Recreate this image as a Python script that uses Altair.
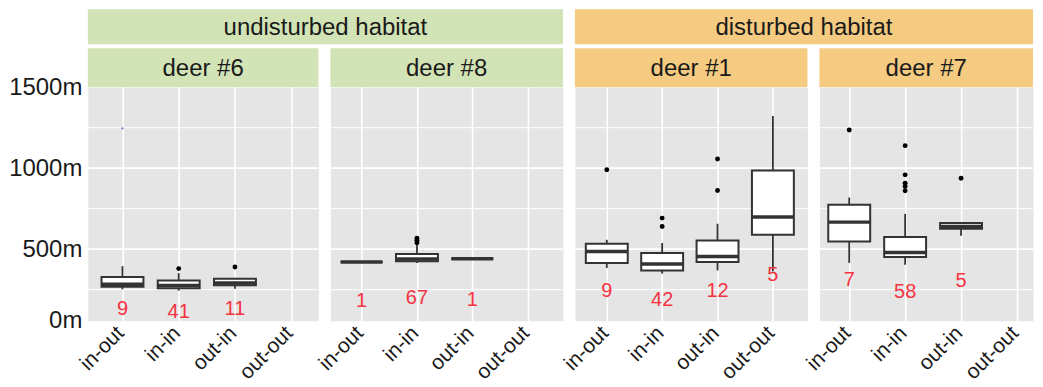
import altair as alt
import pandas as pd

FONT = "Liberation Sans"
CATS = ["in-out", "in-in", "out-in", "out-out"]
DEER = ["deer #6", "deer #8", "deer #1", "deer #7"]
HABITAT = ["undisturbed habitat", "disturbed habitat"]
HAB_OF_DEER = [0, 0, 1, 1]
HAB_FILL = ["#d2e3b5", "#f4cb80"]

# box summaries (metres)
BOX_DEER = ["deer #6", "deer #6", "deer #6",
            "deer #8", "deer #8", "deer #8",
            "deer #1", "deer #1", "deer #1", "deer #1",
            "deer #7", "deer #7", "deer #7"]
BOX_CAT = ["in-out", "in-in", "out-in",
           "in-out", "in-in", "out-in",
           "in-out", "in-in", "out-in", "out-out",
           "in-out", "in-in", "out-in"]
LOWER = [252, 244, 256, 421, 415, 441, 384, 349, 369, 363, 415, 404, 583]
Q1 = [268, 258, 277, 421, 425, 441, 414, 369, 421, 589, 548, 452, 626]
MEDIAN = [283, 276, 291, 421, 440, 441, 486, 408, 455, 698, 667, 480, 640]
Q3 = [328, 306, 318, 421, 470, 441, 534, 476, 554, 985, 774, 575, 661]
UPPER = [395, 352, 322, 421, 525, 441, 558, 538, 657, 1322, 819, 718, 661]
N = [9, 41, 11, 1, 67, 1, 9, 42, 12, 5, 7, 58, 5]
N_POS = [128, 115, 131, 178, 199, 189, 240, 189, 240, 343, 312, 234, 301]

OUT_DEER = ["deer #6", "deer #6", "deer #8", "deer #8", "deer #8",
            "deer #1", "deer #1", "deer #1", "deer #1", "deer #1",
            "deer #7", "deer #7", "deer #7", "deer #7", "deer #7", "deer #7", "deer #7"]
OUT_CAT = ["in-in", "out-in", "in-in", "in-in", "in-in",
           "in-out", "in-in", "in-in", "out-in", "out-in",
           "in-out", "in-in", "in-in", "in-in", "in-in", "in-in", "out-in"]
OUT_VAL = [380, 390, 540, 555, 568,
           990, 692, 640, 1057, 862,
           1236, 1139, 959, 907, 887, 860, 938]

STRAY_DEER = ["deer #6"]
STRAY_CAT = ["in-out"]
STRAY_VAL = [1246]

GRID_MAJOR = [500, 1000]
GRID_MINOR = [250, 750, 1250]
Y_DOMAIN = [58, 1500]
Y_TICKS = [58, 500, 1000, 1500]

box_df = pd.DataFrame({"deer": BOX_DEER, "cat": BOX_CAT, "lower": LOWER, "q1": Q1,
                       "median": MEDIAN, "q3": Q3, "upper": UPPER, "n": N, "npos": N_POS})
out_df = pd.DataFrame({"deer": OUT_DEER, "cat": OUT_CAT, "val": OUT_VAL})
stray_df = pd.DataFrame({"deer": STRAY_DEER, "cat": STRAY_CAT, "val": STRAY_VAL})

GAP = 12
PANEL_W = [231, 233, 233, 214]
PANEL_PAD = [0.55, 0.6, 0.6, 0.41]
PANEL_ALIGN = [0.56, 0.47, 0.48, 0.65]
PANEL_H = 234
HAB_H = 35
HDR_GAP = 4
DEER_H = 39
STROKE = "#333333"
BOXW = 42


def panel(i):
    x_scale = alt.Scale(type="point", domain=CATS, padding=PANEL_PAD[i], align=PANEL_ALIGN[i])
    x_axis = alt.Axis(title=None, labelAngle=315, labelFontSize=21, labelFont=FONT,
                      labelColor="#1a1a1a", labelAlign="right", labelBaseline="middle",
                      labelPadding=9, labelOffset=-2, grid=True, gridColor="white", gridWidth=1.6,
                      ticks=False, domain=False)
    if i == 0:
        y_axis = alt.Axis(title=None, values=Y_TICKS,
                          labelExpr="datum.value < 100 ? '0m' : datum.value + 'm'",
                          labelFontSize=24, labelFont=FONT, labelColor="#1a1a1a",
                          labelPadding=6, grid=False, ticks=False, domain=False)
    else:
        y_axis = None
    y_scale = alt.Scale(domain=Y_DOMAIN, nice=False, zero=False)

    def X():
        return alt.X("cat:N", scale=x_scale, axis=x_axis)

    def Y(field):
        return alt.Y(field, type="quantitative", scale=y_scale, axis=y_axis)

    d = box_df[box_df.deer == DEER[i]]
    o = out_df[out_df.deer == DEER[i]]
    s = stray_df[stray_df.deer == DEER[i]]

    gmaj = alt.Chart(pd.DataFrame({"g": GRID_MAJOR})).mark_rule(color="white", strokeWidth=1.8).encode(y=Y("g"))
    gmin = alt.Chart(pd.DataFrame({"g": GRID_MINOR})).mark_rule(color="white", strokeWidth=1.0).encode(y=Y("g"))
    whisk = alt.Chart(d).mark_rule(color=STROKE, strokeWidth=1.8).encode(x=X(), y=Y("lower"), y2="upper")
    box = alt.Chart(d).mark_bar(fill="white", stroke=STROKE, strokeWidth=2, size=BOXW).encode(
        x=X(), y=Y("q1"), y2="q3")
    med = alt.Chart(d).mark_tick(color=STROKE, thickness=3.5, size=BOXW, opacity=1).encode(x=X(), y=Y("median"))
    outl = alt.Chart(o).mark_circle(size=24, color="black", opacity=1).encode(x=X(), y=Y("val"))
    txt = alt.Chart(d).mark_text(color="#f5333f", fontSize=20, font=FONT, baseline="middle").encode(
        x=X(), y=Y("npos"), text="n:Q")
    layers = [gmaj, gmin, whisk, box, med, outl, txt]
    if len(s):
        layers.append(alt.Chart(s).mark_circle(size=5, color="#6a6ac8", opacity=1).encode(x=X(), y=Y("val")))
    return alt.layer(*layers).properties(
        width=PANEL_W[i], height=PANEL_H,
        view=alt.ViewBackground(fill="#e5e5e5", stroke="transparent"))


def header(i):
    w = PANEL_W[i]
    fill = HAB_FILL[HAB_OF_DEER[i]]
    layers = []
    first_in_group = (i == 0 or HAB_OF_DEER[i] != HAB_OF_DEER[i - 1])
    if first_in_group:
        span = w + GAP + PANEL_W[i + 1]
        hdf = pd.DataFrame({"t": [HABITAT[HAB_OF_DEER[i]]]})
        layers.append(alt.Chart(hdf).mark_rect(color=fill).encode(
            x=alt.value(0), x2=alt.value(span), y=alt.value(0), y2=alt.value(HAB_H)))
        layers.append(alt.Chart(hdf).mark_text(fontSize=24, font=FONT, color="#1a1a1a",
                                               baseline="middle", align="center").encode(
            text="t:N", x=alt.value(span / 2), y=alt.value(HAB_H / 2 + 1)))
    ddf = pd.DataFrame({"t": [DEER[i]]})
    top = HAB_H + HDR_GAP
    layers.append(alt.Chart(ddf).mark_rect(color=fill).encode(
        x=alt.value(0), x2=alt.value(w), y=alt.value(top), y2=alt.value(top + DEER_H)))
    layers.append(alt.Chart(ddf).mark_text(fontSize=24, font=FONT, color="#1a1a1a",
                                           baseline="middle", align="center").encode(
        text="t:N", x=alt.value(w / 2), y=alt.value(top + DEER_H / 2 + 1)))
    return alt.layer(*layers).properties(
        width=w, height=top + DEER_H,
        view=alt.ViewBackground(fill="transparent", stroke="transparent"))


charts = [header(i) for i in range(4)] + [panel(i) for i in range(4)]

chart = alt.concat(*charts, columns=4, spacing={"row": 0, "column": GAP}, bounds="flush").properties(
    padding={"left": 0, "top": 0, "right": 0, "bottom": 0}
).configure_view(stroke="transparent")

chart.save("out.html", embed_options={"renderer": "svg", "actions": False})
